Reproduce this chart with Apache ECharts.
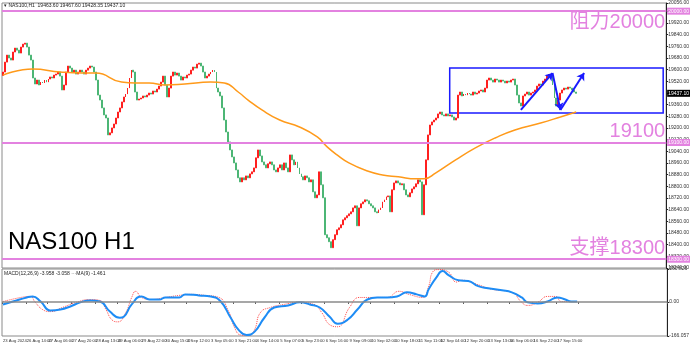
<!DOCTYPE html>
<html><head><meta charset="utf-8">
<script src="https://cdn.jsdelivr.net/npm/echarts@6/dist/echarts.min.js"></script>
<style>html,body{margin:0;padding:0;background:#fff;overflow:hidden}#c{width:692px;height:346px}</style>
</head><body><div id="c"></div>
<script>
// ---------- data ----------
const headerText = '▾ NAS100,H1  19463.60 19467.60 19428.35 19437.10';
const macdText = 'MACD(12,26,9) -3.958 -3.058 ···MA(9) -1.461';
const chartTitle = 'NAS100 H1';
const firstOpen = 19560;
const closes = [
19583,19651,19699,19679,19665,19720,19747,19733,19713,19754,19774,19781,19754,19699,19665,19542,19501,19528,19494,19514,
19508,19528,19514,19535,19549,19542,19562,19569,19583,19555,19460,19494,19583,19624,19610,19583,19596,19569,19583,19596,
19583,19569,19596,19610,19624,19617,19583,19528,19425,19391,19337,19289,19268,19152,19166,19200,19227,19268,19309,19337,
19378,19412,19432,19473,19542,19596,19583,19446,19391,19398,19405,19419,19412,19425,19439,19432,19453,19446,19466,19487,
19514,19555,19494,19412,19473,19555,19583,19562,19576,19555,19528,19549,19542,19562,19569,19596,19617,19610,19637,19644,
19624,19583,19542,19555,19569,19583,19596,19583,19473,19446,19419,19337,19254,19172,19104,19049,19001,18960,18912,18858,
18830,18858,18844,18871,18858,18885,18899,18926,18995,19049,19008,18967,18947,18926,18954,18967,18947,18912,18899,18926,
18947,18912,18960,18926,18899,19015,18981,18947,18967,18926,18885,18865,18844,18871,18858,18830,18844,18762,18721,18741,
18899,18810,18721,18468,18447,18420,18379,18434,18468,18502,18515,18536,18570,18584,18598,18611,18625,18652,18666,18529,
18652,18680,18693,18707,18700,18680,18666,18652,18625,18618,18639,18652,18693,18707,18728,18734,18625,18776,18823,18837,
18823,18810,18817,18776,18741,18728,18755,18782,18796,18817,18844,18830,18605,18810,18981,19152,19220,19241,19254,19268,
19296,19309,19289,19282,19296,19282,19289,19275,19254,19268,19425,19446,19419,19432,19425,19439,19432,19425,19446,19432,
19439,19453,19460,19446,19473,19528,19542,19528,19514,19535,19528,19514,19528,19521,19508,19521,19514,19528,19535,19494,
19425,19371,19350,19419,19432,19446,19425,19439,19446,19460,19487,19501,19494,19521,19535,19555,19569,19562,19494,19405,
19350,19391,19439,19460,19473,19466,19480,19473,19460,19446,19437
];
const maIndex  = [0,15,29,40,47,60,67,74,82,92,105,112,119,124,131,140,150,159,164,169,175,184,192,200,209,213,219,229,239,249,259,272,282,290];
const maValues = [19562,19603,19583,19576,19576,19514,19508,19508,19494,19501,19514,19508,19446,19391,19323,19254,19206,19138,19070,19015,18960,18906,18878,18865,18851,18851,18892,18981,19063,19131,19186,19234,19275,19309];
const macdIndex  = [0,5,12,15,19,24,29,34,39,44,49,54,59,61,65,70,74,79,82,89,92,99,105,110,115,119,123,127,132,137,144,150,155,160,165,169,174,179,184,189,194,199,204,209,213,215,219,222,225,230,235,240,245,252,257,262,265,270,275,280,284,287,290];
const macdValues = [-12,2,22,27,2,-42,-37,-22,-2,7,2,-47,-77,-72,-12,27,12,12,22,22,37,32,27,2,-77,-136,-161,-146,-77,-27,-17,-2,-12,-27,-72,-106,-87,-37,12,22,22,27,47,37,27,62,121,151,131,106,102,77,67,57,47,22,-2,-7,2,22,12,2,2];
const signalIndex  = [0,9,14,16,20,24,30,37,44,49,52,55,58,62,65,67,70,75,82,89,95,102,109,114,117,120,124,127,130,135,142,149,157,161,165,169,175,180,185,194,200,205,212,215,217,220,225,229,232,239,247,257,262,265,270,275,279,282,285];
const signalValues = [2,22,27,2,-37,-47,-27,-2,12,7,-37,-87,-97,-52,22,52,22,12,22,32,37,32,22,-47,-126,-161,-164,-136,-52,-27,-12,-2,-12,-52,-111,-121,-27,22,22,22,52,37,22,77,146,158,146,97,106,87,62,47,-2,-17,-2,27,27,2,2];
const timeLabels = ['23 Aug 2024','26 Aug 14:00','27 Aug 06:00','27 Aug 20:00','28 Aug 13:00','29 Aug 06:00','29 Aug 22:00','30 Aug 15:00','2 Sep 12:00','3 Sep 05:00','3 Sep 21:00','4 Sep 14:00','5 Sep 07:00','5 Sep 23:00','6 Sep 16:00','9 Sep 09:00','10 Sep 02:00','10 Sep 18:00','11 Sep 11:00','12 Sep 04:00','12 Sep 20:00','13 Sep 13:00','16 Sep 06:00','16 Sep 22:00','17 Sep 15:00','18 Sep 08:00'];
const levels = [20000, 19100, 18300];
const levelTexts = ['阻力20000', '19100', '支撑18300'];
const lastPrice = 19437.10;
const boxFrom = [226, 19611];
const boxTo = [334, 19302];
const arrowPath = [[262, 19323], [278, 19576], [282, 19323], [294, 19576]];
const slotCount = 336;

// ---------- build ----------
const labelStep = 11.65;
const categories = Array.from({length: slotCount}, () => '');
timeLabels.forEach((t, k) => { categories[Math.round(k * labelStep)] = t; });
const ohlc = closes.map((c, i) => {
  const o = i ? closes[i - 1] : firstOpen;
  return [o, c, Math.min(o, c), Math.max(o, c)];
});
const pairs = (xs, ys) => xs.map((x, i) => [x, ys[i]]);
const arrows = arrowPath.slice(1).map((p, i) => [{coord: arrowPath[i]}, {coord: p}]);

const FONT = "'Liberation Sans','Noto Sans CJK SC',sans-serif";
const UP = '#ff1f1f', DOWN = '#4cb675', LEVEL = '#e382e0', BLUE = '#1a1aff';
const showLabel = (i, v) => v !== '';

const chart = echarts.init(document.getElementById('c'), null, {renderer: 'canvas'});
chart.setOption({
  animation: false,
  backgroundColor: '#fff',
  grid: [
    {left: 2, right: 19, top: 3, height: 265, show: true, borderColor: '#8a8a8a', borderWidth: 1},
    {left: 2, right: 19, top: 269, height: 67, show: true, borderColor: '#8a8a8a', borderWidth: 1}
  ],
  xAxis: [
    {type: 'category', gridIndex: 0, data: categories, boundaryGap: true,
     axisLine: {show: false}, axisTick: {show: false}, axisLabel: {show: false}, splitLine: {show: false}},
    {type: 'category', gridIndex: 1, data: categories, boundaryGap: true,
     axisLine: {show: false},
     axisTick: {show: true, interval: showLabel, length: 2, lineStyle: {color: '#555'}},
     axisLabel: {show: true, interval: showLabel, hideOverlap: false,
       fontSize: 4.2, color: '#333', align: 'left', margin: 3, fontFamily: FONT},
     splitLine: {show: false}}
  ],
  yAxis: [
    {type: 'value', gridIndex: 0, position: 'right', min: 18240, max: 20056, interval: 80,
     axisLine: {show: true, lineStyle: {color: '#222'}}, axisTick: {show: true, length: 2, lineStyle: {color: '#222'}},
     axisLabel: {fontSize: 5, color: '#333', margin: 2, fontFamily: FONT, formatter: v => v.toFixed(2)},
     splitLine: {show: false}},
    {type: 'value', gridIndex: 1, position: 'right', min: -166.057, max: 160.826, interval: 166.057,
     axisLine: {show: true, lineStyle: {color: '#222'}}, axisTick: {show: true, length: 2, lineStyle: {color: '#222'}},
     axisLabel: {fontSize: 5, color: '#333', margin: 2, fontFamily: FONT,
       formatter: v => Math.abs(v) < 1e-6 ? '0.00' : v.toFixed(3)},
     splitLine: {show: false}}
  ],
  series: [
    {type: 'candlestick', xAxisIndex: 0, yAxisIndex: 0, data: ohlc, barWidth: 1.4,
     itemStyle: {color: UP, color0: DOWN, borderColor: UP, borderColor0: DOWN, borderWidth: 1},
     markLine: {
       silent: true, symbol: ['none', 'none'], animation: false,
       data: [
         ...levels.map((v, i) => ({yAxis: v, lineStyle: {color: LEVEL, width: 2, type: 'solid'},
           label: {show: true, position: i === 0 ? 'insideEndBottom' : 'insideEndTop', formatter: levelTexts[i],
             color: LEVEL, fontSize: 20, fontFamily: FONT, distance: 1}})),
         ...levels.map(v => ({yAxis: v, lineStyle: {color: LEVEL, width: 2, type: 'solid'},
           label: {show: true, position: 'end', formatter: v.toFixed(2), color: '#fff', backgroundColor: LEVEL,
             fontSize: 5, padding: [1, 1], distance: 1, fontFamily: FONT}})),
         {yAxis: lastPrice, lineStyle: {color: 'rgba(0,0,0,0)', width: 0},
          label: {show: true, position: 'end', formatter: lastPrice.toFixed(2), color: '#fff', backgroundColor: '#000',
            fontSize: 5, padding: [1, 1], distance: 1, fontFamily: FONT}}
       ]
     },
     markArea: {silent: true,
       itemStyle: {color: 'rgba(0,0,0,0)', borderColor: BLUE, borderWidth: 1.5},
       data: [[{coord: boxFrom}, {coord: boxTo}]]}
    },
    {type: 'line', name: 'MA', xAxisIndex: 0, yAxisIndex: 0, data: pairs(maIndex, maValues), smooth: true,
     showSymbol: false, lineStyle: {color: '#ff9a1a', width: 1.5}, z: 3,
     markLine: {silent: true, symbol: ['none', 'arrow'], symbolSize: 7, animation: false,
       lineStyle: {color: BLUE, width: 2, type: 'solid'}, label: {show: false}, data: arrows}},
    {type: 'line', name: 'MACD', xAxisIndex: 1, yAxisIndex: 1, data: pairs(macdIndex, macdValues), smooth: true,
     showSymbol: false, lineStyle: {color: '#1e8cf5', width: 2}, z: 3,
     markLine: {silent: true, symbol: ['none', 'none'], label: {show: false},
       lineStyle: {color: '#8a8a8a', width: 1.5, type: 'solid'}, data: [{yAxis: 0}]}},
    {type: 'line', name: 'Signal', xAxisIndex: 1, yAxisIndex: 1, data: pairs(signalIndex, signalValues), smooth: true,
     showSymbol: false, lineStyle: {color: '#ff4a4a', width: 1, type: 'dotted'}, z: 2}
  ],
  graphic: [
    {type: 'text', left: 4, top: 3, style: {text: headerText, fontSize: 5, fill: '#222', fontFamily: FONT}},
    {type: 'text', left: 4, top: 271, style: {text: macdText, fontSize: 5, fill: '#222', fontFamily: FONT}},
    {type: 'text', left: 8, top: 230, style: {text: chartTitle, fontSize: 24, fill: '#000', fontFamily: FONT}}
  ]
});
</script>
</body></html>
